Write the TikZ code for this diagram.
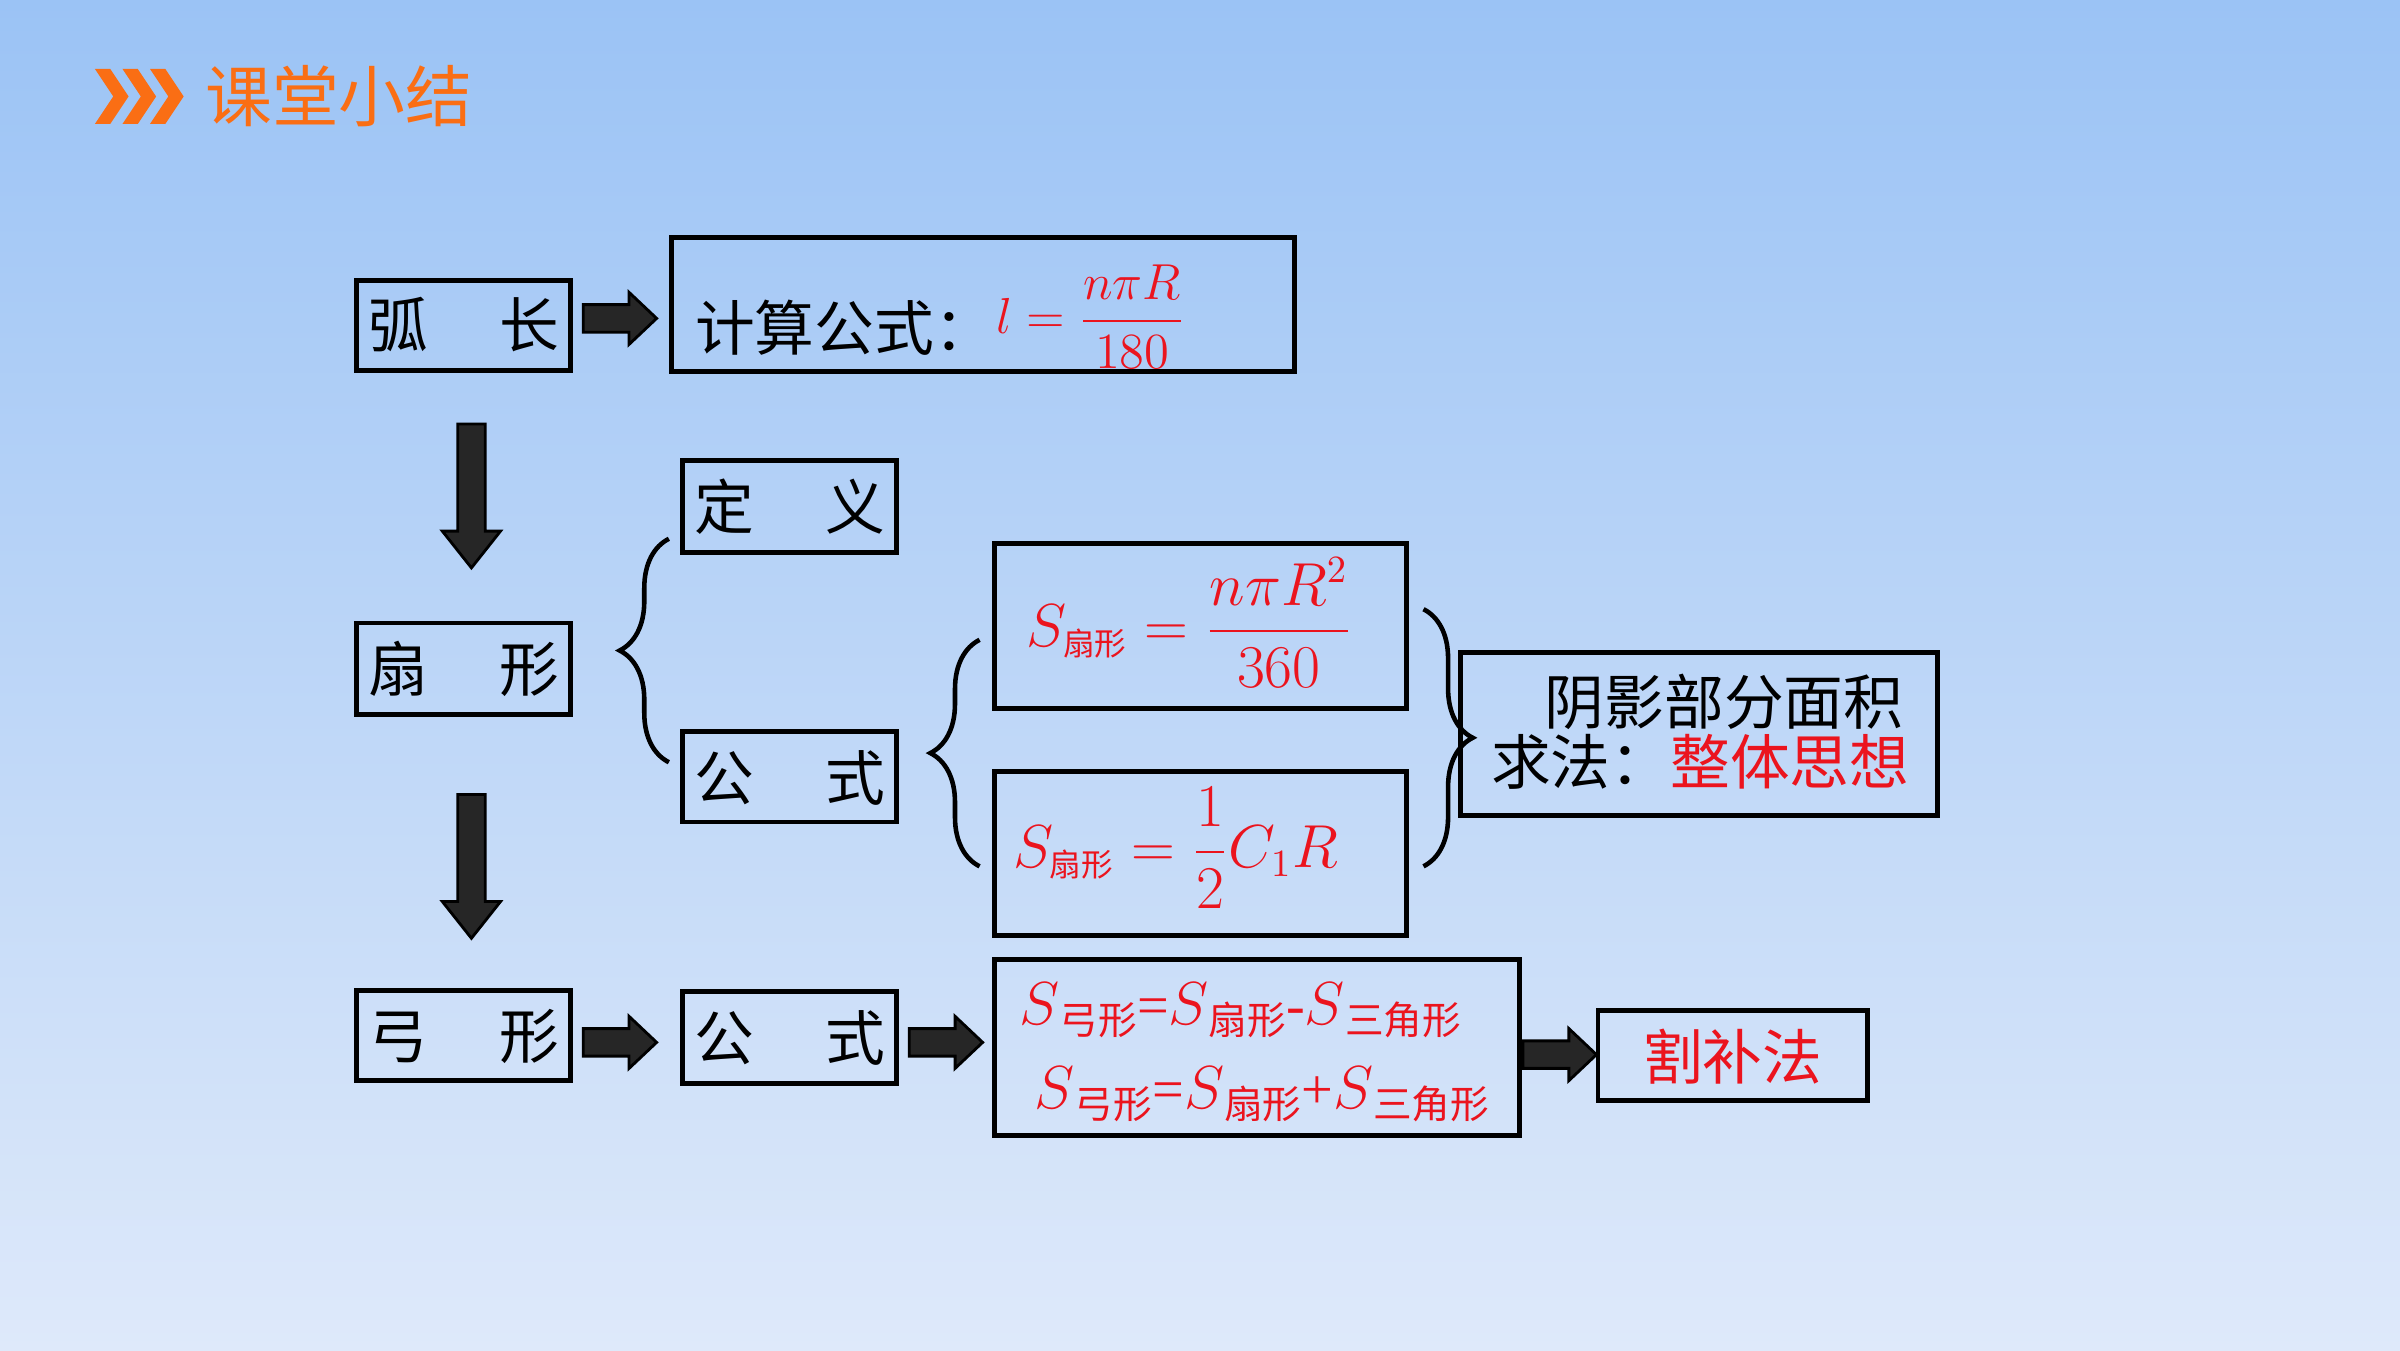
\documentclass[tikz,border=0pt]{standalone}
\usepackage{amsmath}
\usepackage{fontspec}
\setmainfont{Liberation Serif}
\newfontfamily\cjk{Noto Sans CJK SC}
\usetikzlibrary{decorations.pathreplacing}
\definecolor{bgtop}{RGB}{155,195,245}
\definecolor{bgbot}{RGB}{222,233,250}
\definecolor{orng}{RGB}{250,110,20}
\definecolor{fred}{RGB}{235,20,30}
\begin{document}
\begin{tikzpicture}[x=0.015306cm,y=-0.015306cm,
  bx/.style={draw=black,line width=1.4pt},
  lab/.style={font=\cjk\fontsize{17}{17}\selectfont},
  fa/.style={fill=black!85,draw=black,line width=0.8pt},
  br/.style={decorate,decoration={brace,amplitude=14pt},line width=1.3pt},
  rd/.style={text=fred}]
\shade[top color=bgtop,bottom color=bgbot] (0,0) rectangle (1568,882);
\useasboundingbox (0,0) rectangle (1568,882);
\foreach \xx in {62,80,98}
  \fill[orng] (\xx,45) -- (\xx+10,45) -- (\xx+22,63) -- (\xx+10,81) -- (\xx,81) -- (\xx+12,63) -- cycle;
\node[text=orng,font=\cjk\fontsize{19}{19}\selectfont,anchor=west] (title) at (126,63) {课堂小结};
% boxes
\draw[bx] (233,183) rectangle (373,242); \node[lab] (hc) at (303,212) {弧\hspace{1.2em}长};
\draw[bx] (439,155) rectangle (846,243);
\node[lab,anchor=west] (js) at (446,214) {计算公式：};
\node[rd,anchor=west,font=\fontsize{15}{15}\selectfont] (f0) at (643,207) {$l=\dfrac{n\pi R}{180}$};
\draw[bx] (446,301) rectangle (586,361); \node[lab] (dy) at (516,331) {定\hspace{1.2em}义};
\draw[bx] (233,407) rectangle (373,467); \node[lab] (sx) at (303,437) {扇\hspace{1.2em}形};
\draw[bx] (446,478) rectangle (586,537); \node[lab] (gs1) at (516,508) {公\hspace{1.2em}式};
\draw[bx] (650,355) rectangle (919,463);
\node[rd,font=\fontsize{16}{16}\selectfont] (f1) at (777,407) {$S_{\mbox{\cjk\fontsize{9}{9}\selectfont 扇形}}=\dfrac{n\pi R^2}{360}$};
\draw[bx] (650,504) rectangle (919,611);
\node[rd,font=\fontsize{16}{16}\selectfont] (f2) at (768,554) {$S_{\mbox{\cjk\fontsize{9}{9}\selectfont 扇形}}=\dfrac{1}{2}C_1R$};
\draw[bx] (954,426) rectangle (1266,533);
\node[lab,align=left,anchor=west] (yy) at (966,478) {\hspace{0.9em}阴影部分面积\\求法：{\color{fred}整体思想}};
\draw[bx] (233,647) rectangle (373,706); \node[lab] (gx) at (303,677) {弓\hspace{1.2em}形};
\draw[bx] (446,648) rectangle (586,708); \node[lab] (gs2) at (516,678) {公\hspace{1.2em}式};
\draw[bx] (650,627) rectangle (993,742);
\node[rd,font=\fontsize{16}{16}\selectfont,anchor=west] (g1) at (658,660) {$S$\raisebox{-3pt}{\cjk\fontsize{11}{11}\selectfont 弓形}=$S$\raisebox{-3pt}{\cjk\fontsize{11}{11}\selectfont 扇形}-$S$\raisebox{-3pt}{\cjk\fontsize{11}{11}\selectfont 三角形}};
\node[rd,font=\fontsize{16}{16}\selectfont,anchor=west] (g2) at (668,715) {$S$\raisebox{-3pt}{\cjk\fontsize{11}{11}\selectfont 弓形}=$S$\raisebox{-3pt}{\cjk\fontsize{11}{11}\selectfont 扇形}+$S$\raisebox{-3pt}{\cjk\fontsize{11}{11}\selectfont 三角形}};
\draw[bx] (1044,660) rectangle (1220,719); \node[lab,text=fred] (gbf) at (1132,690) {割补法};
% block arrows
\foreach \ax/\ay in {381/208,381/681,594/681,995/689}
  \draw[fa] (\ax,\ay-9) -- (\ax+30,\ay-9) -- (\ax+30,\ay-17) -- (\ax+48,\ay) -- (\ax+30,\ay+17) -- (\ax+30,\ay+9) -- (\ax,\ay+9) -- cycle;
\foreach \ay in {277,519}
  \draw[fa] (299,\ay) -- (317,\ay) -- (317,\ay+70) -- (327,\ay+70) -- (308,\ay+94) -- (289,\ay+70) -- (299,\ay+70) -- cycle;
% braces
\coordinate (b1t) at (437,352); \coordinate (b1b) at (437,498);
\draw[br] (b1b) -- (b1t);
\coordinate (b2t) at (640,418); \coordinate (b2b) at (640,566);
\draw[br] (b2b) -- (b2t);
\coordinate (b3t) at (930,398); \coordinate (b3b) at (930,566);
\draw[br] (b3t) -- (b3b);
\end{tikzpicture}
\end{document}
